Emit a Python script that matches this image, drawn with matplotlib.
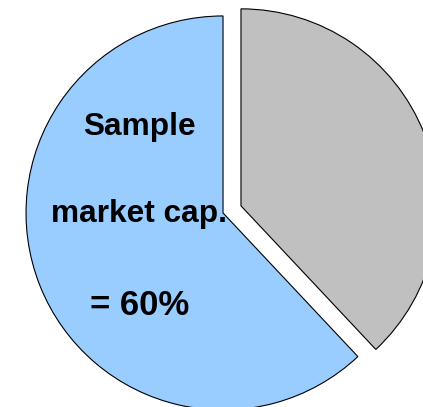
import matplotlib.pyplot as plt

# slice shares as drawn (label says 60%)
labels = ["Sample", "Rest"]
shares = [62, 38]
colors = ["#99CCFF", "#C0C0C0"]
explode = [0, 0.098]

fig = plt.figure(figsize=(4.23, 4.07), dpi=100)
ax = fig.add_axes([0, 0, 1, 1])

ax.pie(shares, explode=explode, colors=colors, startangle=90,
       radius=1.0, wedgeprops=dict(edgecolor="black", linewidth=0.8))

ax.set_xlim(-1.132, 1.015)
ax.set_ylim(-0.985, 1.081)
ax.set_aspect("equal")
ax.axis("off")

# text inside the blue slice
ax.text(-0.425, 0.396, "Sample", ha="center", va="baseline",
        fontsize=22.8, fontweight="bold", family="Liberation Sans")
ax.text(-0.425, -0.046, "market cap.", ha="center", va="baseline",
        fontsize=22.8, fontweight="bold", family="Liberation Sans")
ax.text(-0.425, -0.518, "= 60%", ha="center", va="baseline",
        fontsize=25, fontweight="bold", family="Liberation Sans")

fig.savefig("out.png", dpi=100)
